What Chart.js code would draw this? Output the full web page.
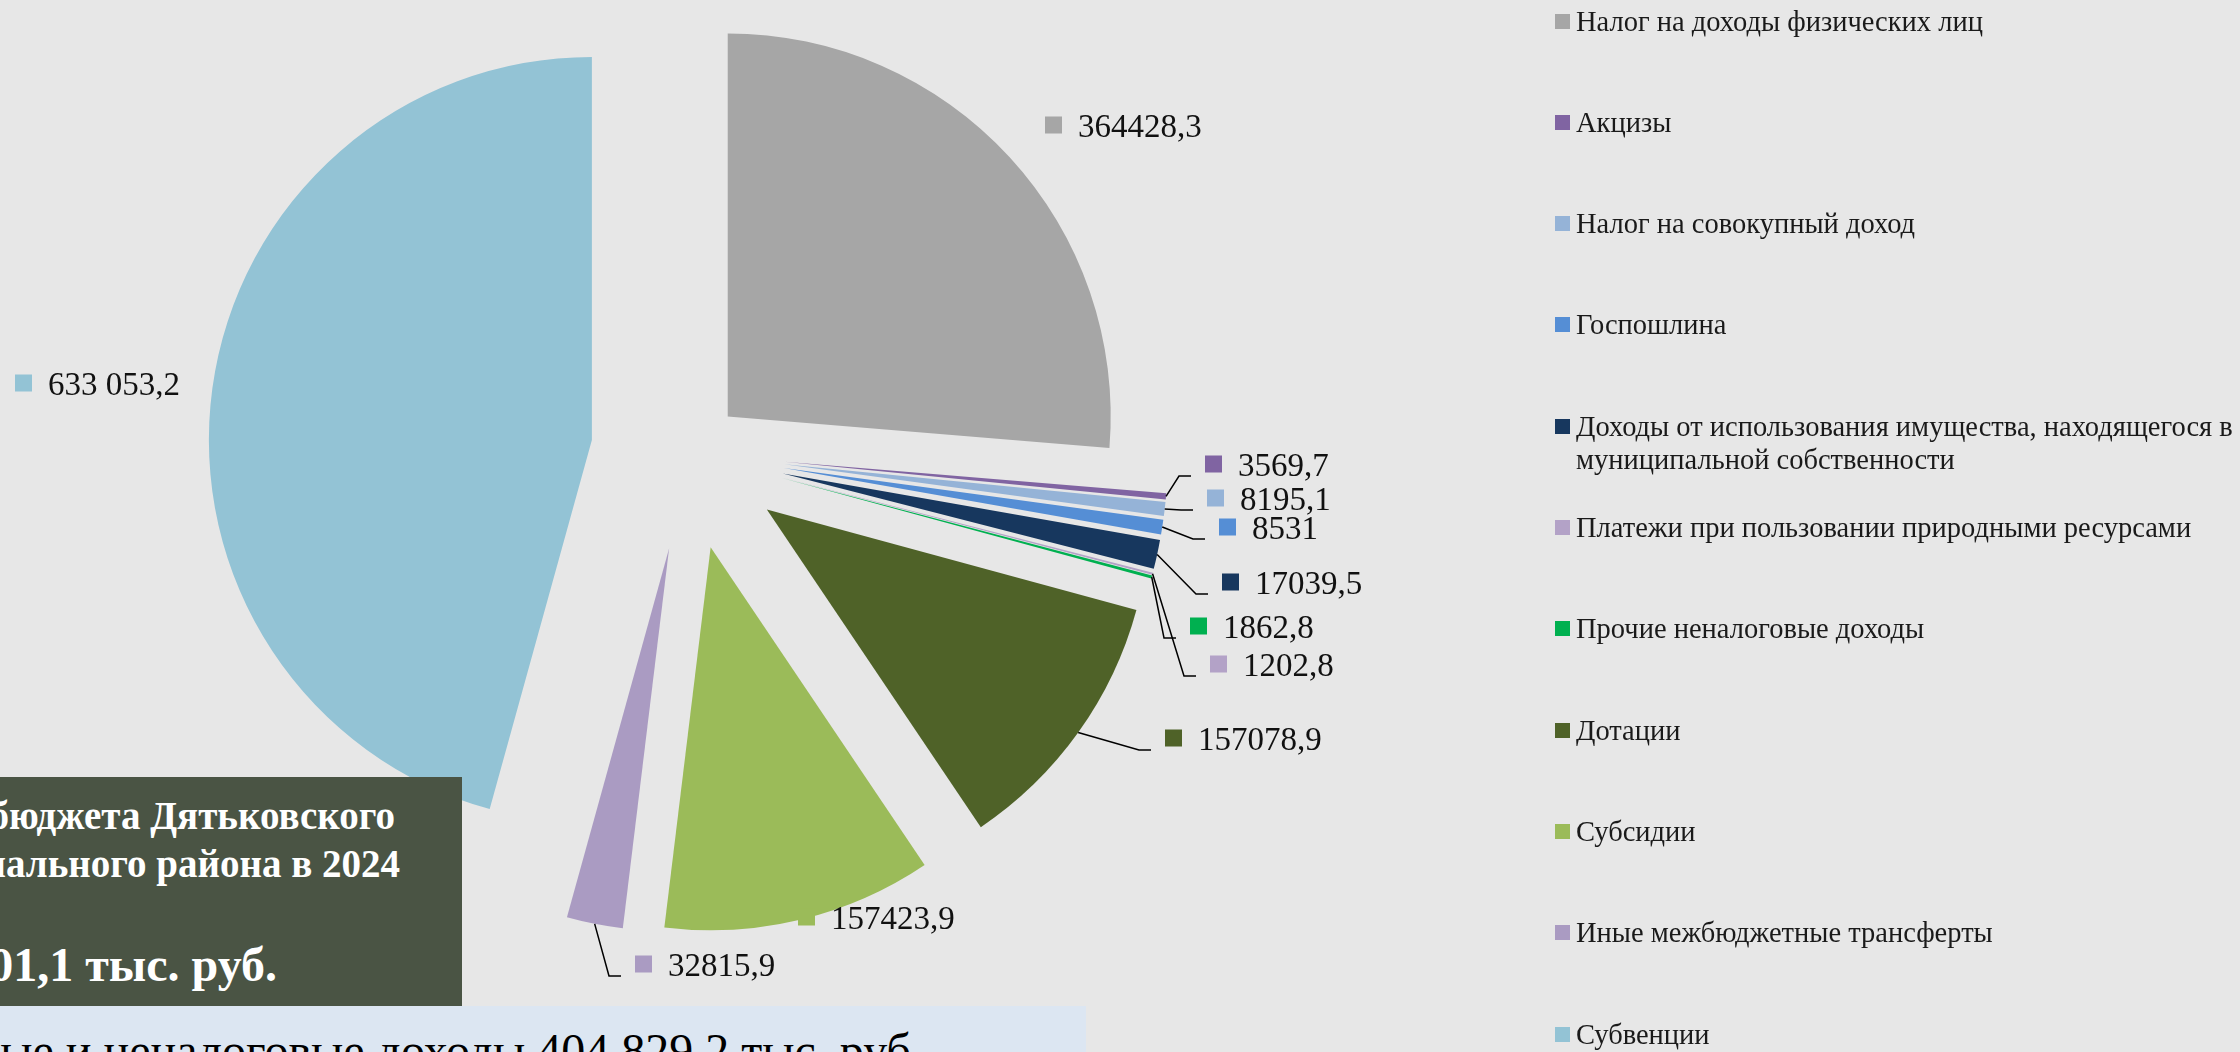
<!DOCTYPE html>
<html lang="ru">
<head>
<meta charset="UTF-8" />
<title>Доходы бюджета Дятьковского муниципального района</title>
<script src="https://cdn.jsdelivr.net/npm/chart.js"></script>
<style>
  html, body { margin: 0; padding: 0; }
  body {
    width: 2240px; height: 1052px; overflow: hidden; position: relative;
    background: #e7e7e7; font-family: "Liberation Serif", serif;
  }
  #chart { position: absolute; left: 0; top: 0; }
  #legend { position: absolute; left: 1555px; top: 0; }
  .item { position: absolute; left: 0; width: 700px; font-size: 28.5px; line-height: 33px; color: #1a1a1a; }
  .item i { position: absolute; left: 0; top: 9px; width: 15px; height: 15px; }
  .item span { display: block; margin-left: 21px; }
  .title-box { position: absolute; left: 0; top: 777px; width: 462px; height: 229px; background: #4a5444; overflow: hidden; }
  .title-box div { position: absolute; white-space: nowrap; color: #fff; font-weight: bold; line-height: 1; }
  .sub-box { position: absolute; left: 0; top: 1006px; width: 1086px; height: 46px; background: #dce6f2; overflow: hidden; }
  .sub-box div { position: absolute; white-space: nowrap; color: #000; font-size: 48px; line-height: 1; }
</style>
</head>
<body>
  <canvas id="chart" width="2240" height="1052"></canvas>
  <div id="legend"></div>

  <div class="title-box">
    <div style="right: 67px; top: 19px; font-size: 39px">Доходы бюджета Дятьковского</div>
    <div style="right: 62px; top: 67px; font-size: 39px">муниципального района в 2024</div>
    <div style="right: 185px; top: 164px; font-size: 48px">1 385 201,1 тыс. руб.</div>
  </div>
  <div class="sub-box">
    <div style="right: 163px; top: 21px">Налоговые и неналоговые доходы 404 829,2 тыс. руб.</div>
  </div>

<script>
  // данные (тыс. руб.)
  const categories = [
    "Налог на доходы физических лиц",
    "Акцизы",
    "Налог на совокупный доход",
    "Госпошлина",
    "Доходы от использования имущества, находящегося в муниципальной собственности",
    "Платежи при пользовании природными ресурсами",
    "Прочие неналоговые доходы",
    "Дотации",
    "Субсидии",
    "Иные межбюджетные трансферты",
    "Субвенции",
  ];
  const values = [364428.3, 3569.7, 8195.1, 8531, 17039.5, 1202.8, 1862.8, 157078.9, 157423.9, 32815.9, 633053.2];

  const colors = [
    "#a6a6a6", "#8064a2", "#95b3d7", "#558ed5", "#17375e", "#b3a2c7",
    "#00b050", "#4f6228", "#9bbb59", "#aa9bc2", "#93c3d5",
  ];

  // вынос секторов (px) и расположение подписей
  const explode = [54, 97, 97, 97, 97, 97, 97, 97, 97, 97, 97];
  const labelSpots = [
    { x: 1045, y: 125, leader: false },
    { x: 1205, y: 464, leader: true },
    { x: 1207, y: 498, leader: true },
    { x: 1219, y: 527, leader: true },
    { x: 1222, y: 582, leader: true },
    { x: 1210, y: 664, leader: true },
    { x: 1190, y: 626, leader: true },
    { x: 1165, y: 738, leader: true },
    { x: 798, y: 917, leader: false },
    { x: 635, y: 964, leader: true },
    { x: 15, y: 383, leader: false, grouped: true },
  ];

  function fmt(v, grouped) {
    let [int, dec] = String(v).split(".");
    if (grouped) int = int.replace(/\B(?=(\d{3})+(?!\d))/g, " ");
    return dec ? int + "," + dec : int;
  }

  const explodedPie = {
    id: "explodedPie",
    beforeDatasetDraw(chart, args) {
      const ctx = chart.ctx;
      args.meta.data.forEach((arc, i) => {
        const mid = (arc.startAngle + arc.endAngle) / 2;
        ctx.save();
        ctx.translate(Math.cos(mid) * explode[i], Math.sin(mid) * explode[i]);
        arc.draw(ctx);
        ctx.restore();
      });
      return false;
    },
    afterDatasetsDraw(chart) {
      const ctx = chart.ctx;
      chart.getDatasetMeta(0).data.forEach((arc, i) => {
        const spot = labelSpots[i];
        const mid = (arc.startAngle + arc.endAngle) / 2;
        const r = arc.outerRadius + explode[i];
        if (spot.leader) {
          ctx.beginPath();
          ctx.moveTo(arc.x + Math.cos(mid) * r, arc.y + Math.sin(mid) * r);
          ctx.lineTo(spot.x - 26, spot.y + 12);
          ctx.lineTo(spot.x - 14, spot.y + 12);
          ctx.strokeStyle = "#000";
          ctx.lineWidth = 1.5;
          ctx.stroke();
        }
        ctx.fillStyle = colors[i];
        ctx.fillRect(spot.x, spot.y - 8.5, 17, 17);
        ctx.fillStyle = "#111";
        ctx.font = '33px "Liberation Serif"';
        ctx.textBaseline = "alphabetic";
        ctx.fillText(fmt(values[i], spot.grouped), spot.x + 33, spot.y + 12);
      });
    },
  };

  new Chart(document.getElementById("chart"), {
    type: "pie",
    data: {
      labels: categories,
      datasets: [{ data: values, backgroundColor: colors, borderWidth: 0 }],
    },
    options: {
      responsive: false,
      animation: false,
      devicePixelRatio: 1,
      radius: 383,
      layout: { padding: { left: 0, top: 0, right: 864, bottom: 146 } },
      plugins: { legend: { display: false }, tooltip: { enabled: false } },
    },
    plugins: [explodedPie],
  });

  // легенда справа
  const legendEl = document.getElementById("legend");
  categories.forEach((name, i) => {
    const row = document.createElement("div");
    row.className = "item";
    row.style.top = (4.5 + i * 101.3) + "px";
    row.innerHTML = `<i style="background:${colors[i]}"></i><span>${name}</span>`;
    legendEl.appendChild(row);
  });
</script>
</body>
</html>
